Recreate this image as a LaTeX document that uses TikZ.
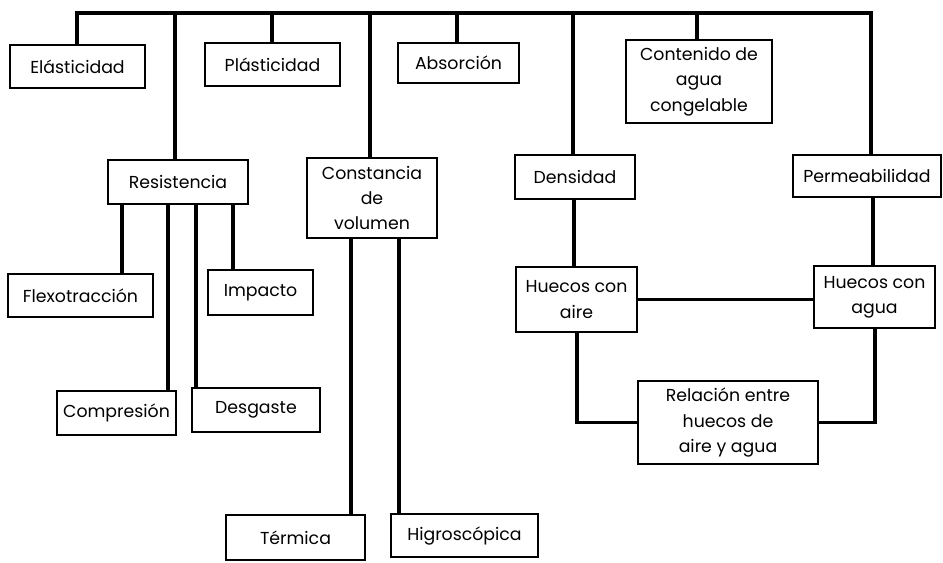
\documentclass[tikz,border=0pt]{standalone}
\usepackage{fontspec}
\setmainfont{Poppins}
\tikzset{
  box/.style={draw, line width=1.3pt, inner sep=0pt, align=center,
    font=\fontsize{13}{19}\selectfont},
  conn/.style={line width=2.6pt, line join=miter}
}
\newcommand{\bx}[6]{\node[box, minimum width={(#4-#2)*0.75pt}, minimum height={(#5-#3)*0.75pt}] (#1) at ({(#2+#4)/2},{(#3+#5)/2}) {#6};}
\begin{document}
\begin{tikzpicture}[x=0.75pt,y=-0.75pt]
\useasboundingbox (0,0) rectangle (943,562);
% boxes
\bx{ela}{10}{45}{145}{88}{Elásticidad}
\bx{pla}{205}{43}{340}{86}{Plásticidad}
\bx{abs}{398}{43}{519}{83}{Absorción}
\bx{con}{626}{40}{772}{123}{Contenido de\\agua\\congelable}
\bx{res}{108}{160}{248}{204}{Resistencia}
\bx{cst}{307}{158}{437}{238}{Constancia\\de\\volumen}
\bx{den}{515}{155}{635}{199}{Densidad}
\bx{per}{793}{155}{941}{197}{Permeabilidad}
\bx{fle}{8}{274}{153}{317}{Flexotracción}
\bx{imp}{208}{270}{313}{315}{Impacto}
\bx{com}{57}{391}{176}{435}{Compresión}
\bx{des}{192}{388}{320}{432}{Desgaste}
\bx{ter}{226}{515}{365}{560}{Térmica}
\bx{hig}{391}{514}{538}{557}{Higroscópica}
\bx{hai}{516}{267}{637}{332}{Huecos con\\aire}
\bx{hag}{814}{266}{935}{328}{Huecos con\\agua}
\bx{rel}{638}{381}{818}{464}{Relación entre\\huecos de\\aire y agua}
% junction coordinates on the top bar
\coordinate (t-ela) at (77,13);
\coordinate (t-res) at (175,13);
\coordinate (t-pla) at (272,13);
\coordinate (t-cst) at (370,13);
\coordinate (t-abs) at (457,13);
\coordinate (t-den) at (573,13);
\coordinate (t-con) at (697,13);
\coordinate (t-per) at (871,13);
% x positions of lower connectors
\coordinate (x-fle) at (122,0);
\coordinate (x-com) at (168,0);
\coordinate (x-des) at (196,0);
\coordinate (x-imp) at (233,0);
\coordinate (x-ter) at (351,0);
\coordinate (x-hig) at (399,0);
\coordinate (x-hai) at (574,0);
\coordinate (x-hag) at (873,0);
\coordinate (x-lo) at (577,0);
\coordinate (x-ro) at (875,0);
% top bar with outer branches
\draw[conn] (t-ela |- ela.north) -- (t-ela) -- (t-per) -- (t-per |- per.north);
\draw[conn] (t-res) -- (t-res |- res.north);
\draw[conn] (t-pla) -- (t-pla |- pla.north);
\draw[conn] (t-cst) -- (t-cst |- cst.north);
\draw[conn] (t-abs) -- (t-abs |- abs.north);
\draw[conn] (t-den) -- (t-den |- den.north);
\draw[conn] (t-con) -- (t-con |- con.north);
% Resistencia children
\draw[conn] (res.south -| x-fle) -- (fle.north -| x-fle);
\draw[conn] (res.south -| x-com) -- (com.north -| x-com);
\draw[conn] (res.south -| x-des) -- (des.north -| x-des);
\draw[conn] (res.south -| x-imp) -- (imp.north -| x-imp);
% Constancia children
\draw[conn] (cst.south -| x-ter) -- (ter.north -| x-ter);
\draw[conn] (cst.south -| x-hig) -- (hig.north -| x-hig);
% right group
\draw[conn] (den.south -| x-hai) -- (hai.north -| x-hai);
\draw[conn] (per.south -| x-hag) -- (hag.north -| x-hag);
\draw[conn] (hai.east) -- (hai.east -| hag.west);
\draw[conn] (hai.south -| x-lo) |- (rel.west);
\draw[conn] (hag.south -| x-ro) |- (rel.east);
\end{tikzpicture}
\end{document}
